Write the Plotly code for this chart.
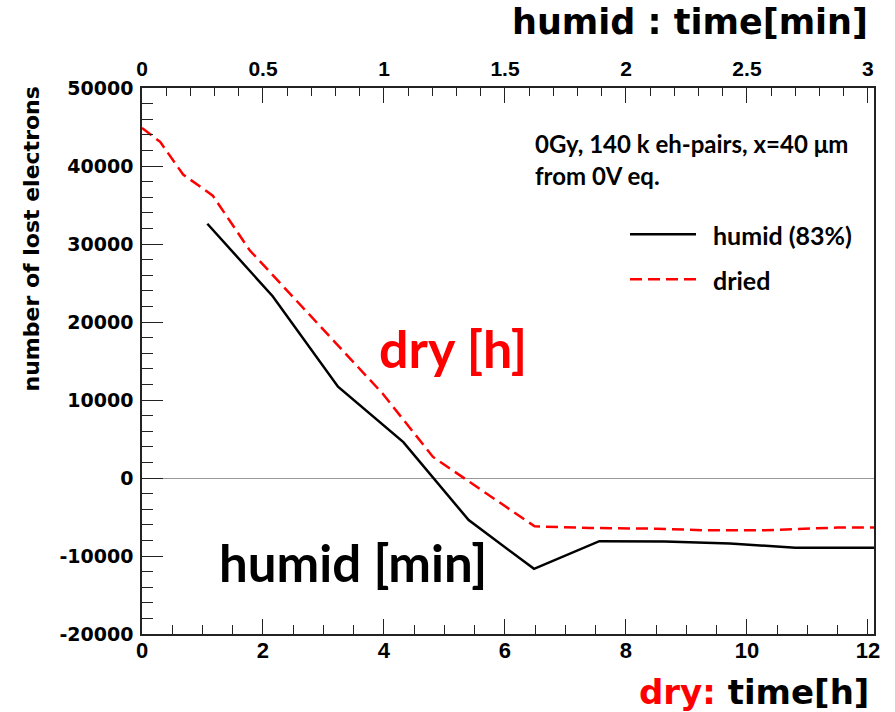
import plotly.graph_objects as go

# ---- data ----
# humid sample: time in minutes (top axis), lost electrons
HUMID_TIME_MIN = [0.27, 0.54, 0.81, 1.08, 1.35, 1.62, 1.89, 2.16, 2.43, 2.70, 2.97, 3.24]
HUMID_LOST = [32600, 23300, 11700, 4600, -5400, -11650, -8100, -8150, -8400, -8950, -8950, -8950]

# dried sample: time in hours (bottom axis), lost electrons
DRIED_TIME_H = [0, 0.30, 0.68, 1.17, 1.78, 3.05, 3.98, 4.81, 6.49, 7.40, 8.50, 9.30, 10.30, 10.80, 11.50, 12.10]
DRIED_LOST = [44870, 43100, 38900, 36200, 29200, 18500, 10800, 2700, -6200, -6400, -6500, -6700, -6700, -6550, -6350, -6350]

Y_TICKVALS = [-20000, -10000, 0, 10000, 20000, 30000, 40000, 50000]
Y_TICKTEXT = ["-20000", "-10000", "0", "10000", "20000", "30000", "40000", "50000"]
X_BOTTOM_TICKVALS = [0, 2, 4, 6, 8, 10, 12]
X_BOTTOM_TICKTEXT = ["0", "2", "4", "6", "8", "10", "12"]
X_TOP_TICKVALS = [0, 0.5, 1, 1.5, 2, 2.5, 3]
X_TOP_TICKTEXT = ["0", "0.5", "1", "1.5", "2", "2.5", "3"]

# ---- layout geometry ----
W, H = 895, 712
L, R, T, B = 142, 21, 88, 78
PW = W - L - R
PH = H - T - B


def px(xp):
    return (xp - L) / PW


def py(yp):
    return (H - B - yp) / PH


fig = go.Figure()
fig.add_trace(go.Scatter(
    x=HUMID_TIME_MIN, y=HUMID_LOST, xaxis="x2", yaxis="y", mode="lines",
    line=dict(color="black", width=2.5), showlegend=False, name="humid (83%)"))
fig.add_trace(go.Scatter(
    x=DRIED_TIME_H, y=DRIED_LOST, xaxis="x", yaxis="y", mode="lines",
    line=dict(color="#ff0000", width=2.5, dash="12px,6px"), showlegend=False, name="dried"))

axis_common = dict(showgrid=False, showline=True, linecolor="#222222", linewidth=1.5,
                   ticks="inside", tickcolor="#222222", tickwidth=1.3)

fig.update_layout(
    width=W, height=H,
    margin=dict(l=L, r=R, t=T, b=B, pad=0),
    paper_bgcolor="white", plot_bgcolor="white",
    xaxis=dict(range=[0, 12.1], tickmode="array", tickvals=X_BOTTOM_TICKVALS, ticktext=X_BOTTOM_TICKTEXT,
               ticklen=15, zeroline=False, ticklabelstandoff=-4,
               tickfont=dict(family="Liberation Sans, Arial", size=22, color="black", weight="bold"),
               minor=dict(ticks="inside", tickmode="linear", tick0=0, dtick=0.5, ticklen=9,
                          tickcolor="#222222", tickwidth=1.1),
               **axis_common),
    xaxis2=dict(range=[0, 3.025], overlaying="x", side="top", anchor="y",
                tickmode="array", tickvals=X_TOP_TICKVALS, ticktext=X_TOP_TICKTEXT,
                ticklen=15, zeroline=False, ticklabelstandoff=2,
                tickfont=dict(family="Liberation Sans, Arial", size=21, color="black", weight="bold"),
                minor=dict(ticks="inside", tickmode="linear", tick0=0, dtick=0.1, ticklen=8,
                           tickcolor="#222222", tickwidth=1.1),
                **axis_common),
    yaxis=dict(range=[-20000, 50000], tickmode="array", tickvals=Y_TICKVALS, ticktext=Y_TICKTEXT,
               ticklen=21, mirror=True, ticklabelstandoff=3,
               zeroline=True, zerolinecolor="#999999", zerolinewidth=1.3,
               tickfont=dict(family="DejaVu Sans", size=19, color="black", weight="bold"),
               minor=dict(ticks="inside", tickmode="linear", tick0=0, dtick=2000, ticklen=11,
                          tickcolor="#222222", tickwidth=1.1),
               **axis_common),
)

ann = []
# y-axis title
ann.append(dict(text="number of lost electrons", x=px(30.5), y=py(239), xref="paper", yref="paper",
                textangle=-90, xanchor="center", yanchor="middle", showarrow=False,
                font=dict(family="DejaVu Sans", size=22, color="black", weight="bold")))
# top axis title
ann.append(dict(text="humid : time[min]", x=px(690), y=py(22), xref="paper", yref="paper",
                xanchor="center", yanchor="middle", showarrow=False,
                font=dict(family="DejaVu Sans", size=35, color="black", weight="bold")))
# bottom axis title
ann.append(dict(text="<span style='color:#ff0000'>dry:</span> time[h]", x=px(754), y=py(692),
                xref="paper", yref="paper", xanchor="center", yanchor="middle", showarrow=False,
                font=dict(family="DejaVu Sans", size=34, color="black", weight="bold")))
# in-plot labels
ann.append(dict(text="dry [h]", x=px(452.5), y=py(348), xref="paper", yref="paper",
                xanchor="center", yanchor="middle", showarrow=False,
                font=dict(family="Lato", size=52, color="#ff0000", weight="bold")))
ann.append(dict(text="humid [min]", x=px(352.5), y=py(562), xref="paper", yref="paper",
                xanchor="center", yanchor="middle", showarrow=False,
                font=dict(family="Lato", size=51, color="black", weight="bold")))
# info text
info_font = dict(family="Lato", size=24, color="black", weight="bold")
ann.append(dict(text="0Gy, 140 k eh-pairs, x=40 μm", x=px(533), y=py(143), xref="paper", yref="paper",
                xanchor="left", yanchor="middle", showarrow=False, font=info_font))
ann.append(dict(text="from 0V eq.", x=px(533), y=py(175), xref="paper", yref="paper",
                xanchor="left", yanchor="middle", showarrow=False, font=info_font))
# legend labels
ann.append(dict(text="humid (83%)", x=px(711), y=py(235), xref="paper", yref="paper",
                xanchor="left", yanchor="middle", showarrow=False,
                font=dict(family="Lato", size=25, color="black", weight="bold")))
ann.append(dict(text="dried", x=px(711), y=py(280), xref="paper", yref="paper",
                xanchor="left", yanchor="middle", showarrow=False,
                font=dict(family="Lato", size=25, color="black", weight="bold")))
fig.update_layout(annotations=ann)

# legend sample lines
fig.add_shape(type="line", xref="paper", yref="paper", x0=px(630), x1=px(696), y0=py(234.3), y1=py(234.3),
              line=dict(color="black", width=2.5))
fig.add_shape(type="line", xref="paper", yref="paper", x0=px(630), x1=px(696), y0=py(279.3), y1=py(279.3),
              line=dict(color="#ff0000", width=2.5, dash="12px,6px"))

fig.write_html("out.html")
